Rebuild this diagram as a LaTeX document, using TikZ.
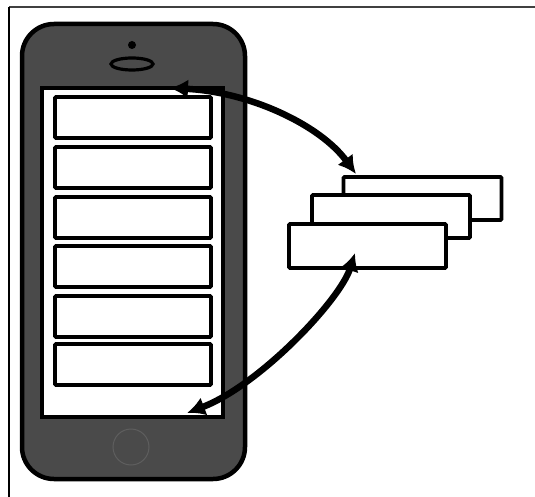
\documentclass[tikz,border=0pt]{standalone}
\usetikzlibrary{arrows.meta}
\definecolor{phonegray}{HTML}{4A4A4A}
\definecolor{homegray}{HTML}{5E5E5E}
\begin{document}
\begin{tikzpicture}[x=1pt,y=-1pt,
  phonebody/.style={draw=black, line width=4.5pt, fill=phonegray, rounded corners=32pt},
  screenbox/.style={draw=black, line width=3.5pt, fill=white, inner sep=0pt, minimum width=181pt, minimum height=329pt},
  listrow/.style={draw=black, line width=3.8pt, fill=white, inner sep=0pt, minimum width=156pt, minimum height=41pt, rounded corners=1pt},
  card/.style={draw=black, line width=3.8pt, fill=white, inner sep=0pt, minimum width=158pt, minimum height=43pt, rounded corners=1pt},
  swap/.style={line width=6.5pt, {Latex[length=18pt,width=19pt]}-{Latex[length=18pt,width=19pt]}}
]
\useasboundingbox (0,0) rectangle (535,497);

% frame edges
\draw[line width=1.8pt, color=black!75] (9,7) -- (535,7);
\draw[line width=1.2pt, color=black] (9,7) -- (9,497);

% phone body
\draw[phonebody] (22,24) rectangle (245,479);
\fill[black] (132,45) circle (4pt);
\draw[black, line width=3.2pt, fill=phonegray] (132,64) ellipse (21pt and 6pt);
\draw[homegray, line width=1pt] (131,447) circle (18pt);

% screen and list rows
\node[screenbox] (screen) at (132.5,252.5) {};
\foreach \i/\y in {1/117.5,2/167.5,3/217.5,4/266.5,5/316.5,6/364.5}
  \node[listrow] (r\i) at (133,\y) {};

% stacked cards
\node[card] (c3) at (422.5,198.5) {};
\node[card] (c2) at (391,216.5) {};
\node[card, minimum width=157pt, minimum height=44pt] (c1) at (367.5,246) {};

% connectors
\coordinate (ta) at (170,88);
\coordinate (tb) at (356,174);
\coordinate (ba) at (355,253);
\coordinate (bb) at (187,413);
\draw[swap] (ta) .. controls (250,92) and (320,125) .. (tb);
\draw[swap] (ba) .. controls (340,300) and (260,385) .. (bb);
\end{tikzpicture}
\end{document}
